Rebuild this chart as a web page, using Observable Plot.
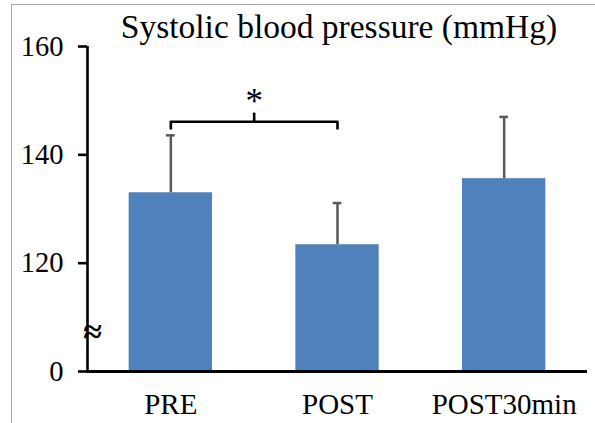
<!DOCTYPE html>
<html><head><meta charset="utf-8">
<script src="https://cdn.jsdelivr.net/npm/d3@7"></script>
<script src="https://cdn.jsdelivr.net/npm/@observablehq/plot@0.6"></script>
<style>
html,body{margin:0;padding:0;background:#fff;}
#wrap{position:relative;width:595px;height:423px;overflow:hidden;}
#border{position:absolute;left:11px;top:4px;width:600px;height:430px;border-left:1.5px solid #a9a9a9;border-top:1.5px solid #a9a9a9;}
#wrap svg{position:absolute;left:0;top:0;}
</style></head><body><div id="wrap"><div id="border"></div></div>
<script>
const title = "Systolic blood pressure (mmHg)";
const categories = ["PRE", "POST", "POST30min"];
const means = [133.0, 123.4, 135.6];
const sds = [10.6, 7.7, 11.4];
const yTicks = [100, 120, 140, 160];
const yTickLabels = ["0", "120", "140", "160"];
const breakAt = 107.2;
const compFrom = 0, compTo = 1;
const compY = 146.1, compDrop = 1.4, compTick = 1.6, compLabelY = 149.7;
const compLabel = "*";

const data = categories.map((c, i) => ({i, c, mean: means[i], top: means[i] + sds[i]}));
const bracket = [
  {x: compFrom, y: compY - compDrop},
  {x: compFrom, y: compY},
  {x: compTo, y: compY},
  {x: compTo, y: compY - compDrop}
];
const mid = (compFrom + compTo) / 2;
const ff = "Liberation Serif";

const plot = Plot.plot({
  width: 595, height: 423,
  marginLeft: 87, marginRight: 8, marginTop: 46, marginBottom: 52,
  style: {fontFamily: ff, fontSize: "28px", color: "#000", background: "transparent"},
  x: {type: "linear", domain: [-0.5, 2.5], axis: null},
  y: {domain: [100, 160], axis: null},
  marks: [
    Plot.rectY(data, {x1: d => d.i - 0.25, x2: d => d.i + 0.25, y1: 100, y2: "mean", fill: "#4f81bd"}),
    Plot.ruleX(data, {x: "i", y1: "mean", y2: "top", stroke: "#595959", strokeWidth: 2.5}),
    Plot.ruleY(data, {y: "top", x1: d => d.i - 0.026, x2: d => d.i + 0.026, stroke: "#595959", strokeWidth: 2.5}),
    Plot.ruleX([-0.5], {y1: 100, y2: 160, stroke: "#000", strokeWidth: 2.6}),
    Plot.ruleY([100], {x1: -0.5, x2: 2.5, stroke: "#000", strokeWidth: 2.8}),
    Plot.axisY({anchor: "left", ticks: yTicks, tickFormat: d => yTickLabels[yTicks.indexOf(d)], tickSize: 9, tickPadding: 15, strokeWidth: 2.6, stroke: "#000", fill: "#000", fontSize: 28.5, fontFamily: ff}),
    Plot.axisX({anchor: "bottom", ticks: [0, 1, 2], tickFormat: i => categories[i], tickSize: 0, tickPadding: 22, fill: "#000", fontSize: 29, fontFamily: ff}),
    Plot.line(bracket, {x: "x", y: "y", stroke: "#000", strokeWidth: 2.6, strokeLinejoin: "round", strokeLinecap: "butt"}),
    Plot.ruleX([mid], {y1: compY, y2: compY + compTick, stroke: "#000", strokeWidth: 2.6}),
    Plot.text([compLabel], {x: mid, y: compLabelY, fontSize: 35, fill: "#000", fontFamily: ff}),
    Plot.text(["≈"], {x: -0.5, y: breakAt, dx: 5, fontSize: 34, fontWeight: "bold", fill: "#000", fontFamily: ff}),
    Plot.text([title], {frameAnchor: "top", lineAnchor: "bottom", dx: 1.5, dy: -9, fontSize: 33.5, fill: "#000", fontFamily: ff})
  ]
});
document.getElementById("wrap").appendChild(plot);
</script>
</body></html>
